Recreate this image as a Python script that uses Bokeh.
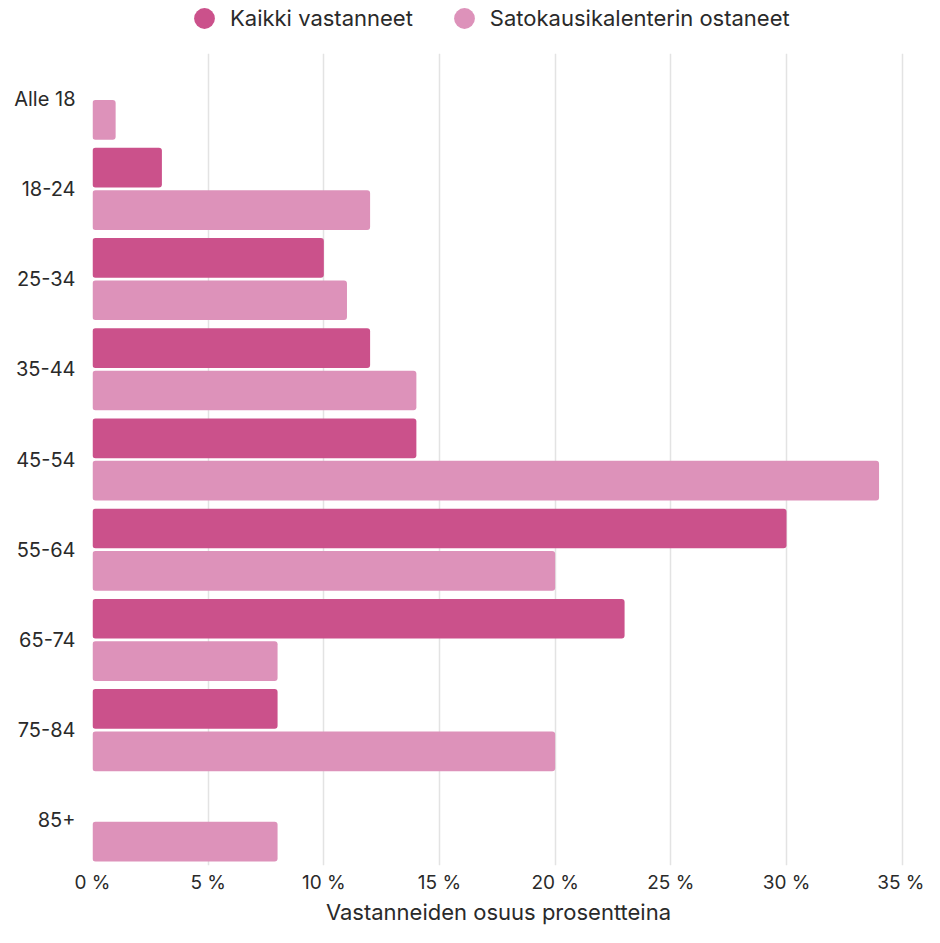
from bokeh.plotting import figure
from bokeh.models import (ColumnDataSource, FactorRange, Range1d, FixedTicker,
                          PrintfTickFormatter, Legend, LegendItem)
from bokeh.layouts import column
from bokeh.transform import dodge
from bokeh.embed import file_html
from bokeh.resources import INLINE

categories = ["Alle 18", "18-24", "25-34", "35-44", "45-54", "55-64", "65-74", "75-84", "85+"]
kaikki = [0, 3, 10, 12, 14, 30, 23, 8, 0]
ostaneet = [1, 12, 11, 14, 34, 20, 8, 20, 8]
x_ticks = [0, 5, 10, 15, 20, 25, 30, 35]
series_names = ["Kaikki vastanneet", "Satokausikalenterin ostaneet"]
x_title = "Vastanneiden osuus prosentteina"

C1 = "#CB518B"
C2 = "#DD92BA"
FONT = "Inter"
TXT = "#2a2a2a"

W = 924
LEG_H = 36

# ---- legend strip (proxy markers sit outside the strip's visible range) ----
lg = figure(width=W, height=LEG_H, output_backend="svg", toolbar_location=None,
            min_border=0, x_axis_type=None, y_axis_type=None,
            x_range=Range1d(1, 2), y_range=Range1d(1, 2))
lg.outline_line_color = None
lg.xgrid.visible = False
lg.ygrid.visible = False
proxy = ColumnDataSource(dict(x=[0], y=[0]))
r1 = lg.scatter(x="x", y="y", source=proxy, size=21, marker="circle",
                fill_color=C1, line_color=None)
r2 = lg.scatter(x="x", y="y", source=proxy, size=21, marker="circle",
                fill_color=C2, line_color=None)
legend = Legend(items=[LegendItem(label=series_names[0], renderers=[r1]),
                       LegendItem(label=series_names[1], renderers=[r2])],
                orientation="horizontal", location=(86, -8),
                glyph_width=52, glyph_height=52, label_standoff=0, spacing=25,
                padding=0, margin=0, border_line_color=None, background_fill_alpha=0,
                label_text_font=FONT, label_text_font_size="22px", label_text_color=TXT)
lg.add_layout(legend)

# ---- main chart ----
src = ColumnDataSource(dict(cat=categories, k=kaikki, o=ostaneet))

p = figure(width=W, height=927 - LEG_H, output_backend="svg", toolbar_location=None,
           y_range=FactorRange(factors=list(reversed(categories)), range_padding=0),
           x_range=Range1d(0, 35.1),
           min_border_left=92, min_border_right=20, min_border_top=53 - LEG_H,
           min_border_bottom=5)
p.outline_line_color = None
p.background_fill_color = "white"

p.hbar(y=dodge("cat", 0.235, range=p.y_range), right="k", left=0, height=0.44,
       source=src, fill_color=C1, line_color=None, border_radius=3)
p.hbar(y=dodge("cat", -0.235, range=p.y_range), right="o", left=0, height=0.44,
       source=src, fill_color=C2, line_color=None, border_radius=3)

p.xaxis.ticker = FixedTicker(ticks=x_ticks)
p.xaxis.formatter = PrintfTickFormatter(format="%d %%")
p.xaxis.axis_line_color = None
p.xaxis.major_tick_line_color = None
p.xaxis.minor_tick_line_color = None
p.xaxis.major_tick_out = 0
p.xaxis.major_tick_in = 0
p.xaxis.minor_tick_out = 0
p.xaxis.major_label_standoff = 5
p.xaxis.major_label_text_font = FONT
p.xaxis.major_label_text_font_size = "19px"
p.xaxis.major_label_text_color = TXT
p.xaxis.axis_label = x_title
p.xaxis.axis_label_text_font = FONT
p.xaxis.axis_label_text_font_size = "22px"
p.xaxis.axis_label_text_font_style = "normal"
p.xaxis.axis_label_text_color = TXT
p.xaxis.axis_label_standoff = 2

p.yaxis.axis_line_color = None
p.yaxis.major_tick_line_color = None
p.yaxis.minor_tick_line_color = None
p.yaxis.major_tick_out = 0
p.yaxis.major_tick_in = 0
p.yaxis.major_label_standoff = 17
p.yaxis.major_label_text_font = FONT
p.yaxis.major_label_text_font_size = "20px"
p.yaxis.major_label_text_color = TXT

p.xgrid.grid_line_color = "#e3e3e3"
p.xgrid.grid_line_width = 1.5
p.ygrid.grid_line_color = None

layout = column(lg, p, spacing=0)
open("out.html", "w").write(file_html(layout, INLINE))
